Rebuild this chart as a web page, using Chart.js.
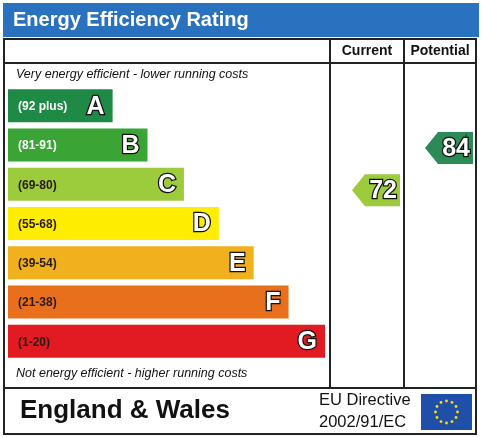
<!DOCTYPE html>
<html>
<head>
<meta charset="utf-8">
<script src="https://cdn.jsdelivr.net/npm/chart.js@4"></script>
<style>
  html, body { margin: 0; padding: 0; background: #fff; }
  #wrap { width: 483px; height: 437px; position: relative; }
</style>
</head>
<body>
<div id="wrap"><canvas id="epc" width="483" height="437"></canvas></div>
<script>
// Bands, top (most efficient) to bottom
const bandLetters = ['A', 'B', 'C', 'D', 'E', 'F', 'G'];
const bandRanges = ['(92 plus)', '(81-91)', '(69-80)', '(55-68)', '(39-54)', '(21-38)', '(1-20)'];
const bandLengths = [33, 44, 55.5, 66.5, 77.5, 88.5, 100];
const bandColors = ['#1e8a45', '#3aa535', '#9ccb3b', '#ffed00', '#f1b11e', '#e86f1c', '#e21a22'];
const currentRating = 72;
const potentialRating = 84;
const arrowColors = { current: '#9ccb3b', potential: '#2b8a55' };
const ratingBandOf = r => r >= 92 ? 0 : r >= 81 ? 1 : r >= 69 ? 2 : r >= 55 ? 3 : r >= 39 ? 4 : r >= 21 ? 5 : 6;

// Frame, headers, band labels, arrows and footer
const epcPlugin = {
    id: 'epcDecor',
    beforeDraw(chart) {
        const c = chart.ctx;
        c.save();
        c.fillStyle = '#2a72c0';
        c.fillRect(3, 3, 476, 34);
        c.fillStyle = '#fff';
        c.font = 'bold 20px "Liberation Sans", Arial, sans-serif';
        c.textBaseline = 'middle';
        c.fillText('Energy Efficiency Rating', 13, 20);
        c.restore();
    },
    afterDatasetsDraw(chart) {
        const c = chart.ctx;
        const y = chart.scales.y;
        const meta = chart.getDatasetMeta(0);
        c.save();
        c.strokeStyle = '#222';
        c.lineWidth = 2;
        c.strokeRect(4, 39, 472, 395);
        c.beginPath();
        c.moveTo(4, 63); c.lineTo(476, 63);
        c.moveTo(330, 39); c.lineTo(330, 388);
        c.moveTo(404, 39); c.lineTo(404, 388);
        c.moveTo(4, 388); c.lineTo(476, 388);
        c.stroke();

        c.fillStyle = '#111';
        c.textBaseline = 'middle';
        c.font = 'bold 14px "Liberation Sans", Arial, sans-serif';
        c.textAlign = 'center';
        c.fillText('Current', 367, 51);
        c.fillText('Potential', 440, 51);
        c.textAlign = 'left';
        c.font = 'italic 12.5px "Liberation Sans", Arial, sans-serif';
        c.fillText('Very energy efficient - lower running costs', 16, 75);
        c.fillText('Not energy efficient - higher running costs', 16, 374);

        meta.data.forEach((bar, i) => {
            c.font = 'bold 12px "Liberation Sans", Arial, sans-serif';
            c.fillStyle = i < 2 ? '#fff' : '#2a1a10';
            c.textAlign = 'left';
            c.fillText(bandRanges[i], 18, bar.y + 1);
            c.font = 'bold 25px "Liberation Sans", Arial, sans-serif';
            c.textAlign = 'right';
            c.lineWidth = 2.5;
            c.strokeStyle = '#111';
            c.strokeText(bandLetters[i], bar.x - 8, bar.y + 1);
            c.fillStyle = '#fff';
            c.fillText(bandLetters[i], bar.x - 8, bar.y + 1);
        });

        const arrow = (rating, color, left, right) => {
            const b = ratingBandOf(rating);
            const cy = y.getPixelForValue(b) + (b === 2 ? 6 : 3);
            const h = 32;
            c.fillStyle = color;
            c.beginPath();
            c.moveTo(left, cy);
            c.lineTo(left + 13, cy - h / 2);
            c.lineTo(right, cy - h / 2);
            c.lineTo(right, cy + h / 2);
            c.lineTo(left + 13, cy + h / 2);
            c.closePath();
            c.fill();
            c.font = 'bold 25px "Liberation Sans", Arial, sans-serif';
            c.textAlign = 'right';
            c.lineWidth = 2.5;
            c.strokeStyle = '#111';
            c.strokeText(String(rating), right - 3, cy + 1);
            c.fillStyle = '#fff';
            c.fillText(String(rating), right - 3, cy + 1);
        };
        arrow(currentRating, arrowColors.current, 352, 400);
        arrow(potentialRating, arrowColors.potential, 425, 473);

        c.fillStyle = '#111';
        c.textAlign = 'left';
        c.font = 'bold 26px "Liberation Sans", Arial, sans-serif';
        c.fillText('England & Wales', 20, 411);
        c.font = '16.5px "Liberation Sans", Arial, sans-serif';
        c.fillText('EU Directive', 319, 400);
        c.fillText('2002/91/EC', 319, 422);
        c.fillStyle = '#1f4fa8';
        c.fillRect(421, 394, 51, 36);
        c.fillStyle = '#ffe000';
        for (let k = 0; k < 12; k++) {
            const a = k * Math.PI / 6;
            c.beginPath();
            c.arc(446.5 + 11 * Math.cos(a), 412 + 11 * Math.sin(a), 1.4, 0, Math.PI * 2);
            c.fill();
        }
        c.restore();
    }
};

new Chart(document.getElementById('epc').getContext('2d'), {
    type: 'bar',
    data: {
        labels: bandLetters,
        datasets: [{
            data: bandLengths,
            backgroundColor: bandColors,
            barPercentage: 0.84,
            categoryPercentage: 1
        }]
    },
    options: {
        indexAxis: 'y',
        responsive: false,
        animation: false,
        layout: { padding: { left: 8, right: 158, top: 86, bottom: 76 } },
        plugins: { legend: { display: false }, tooltip: { enabled: false } },
        scales: {
            x: { display: false, min: 0, max: 100 },
            y: { display: false }
        }
    },
    plugins: [epcPlugin]
});
</script>
</body>
</html>
